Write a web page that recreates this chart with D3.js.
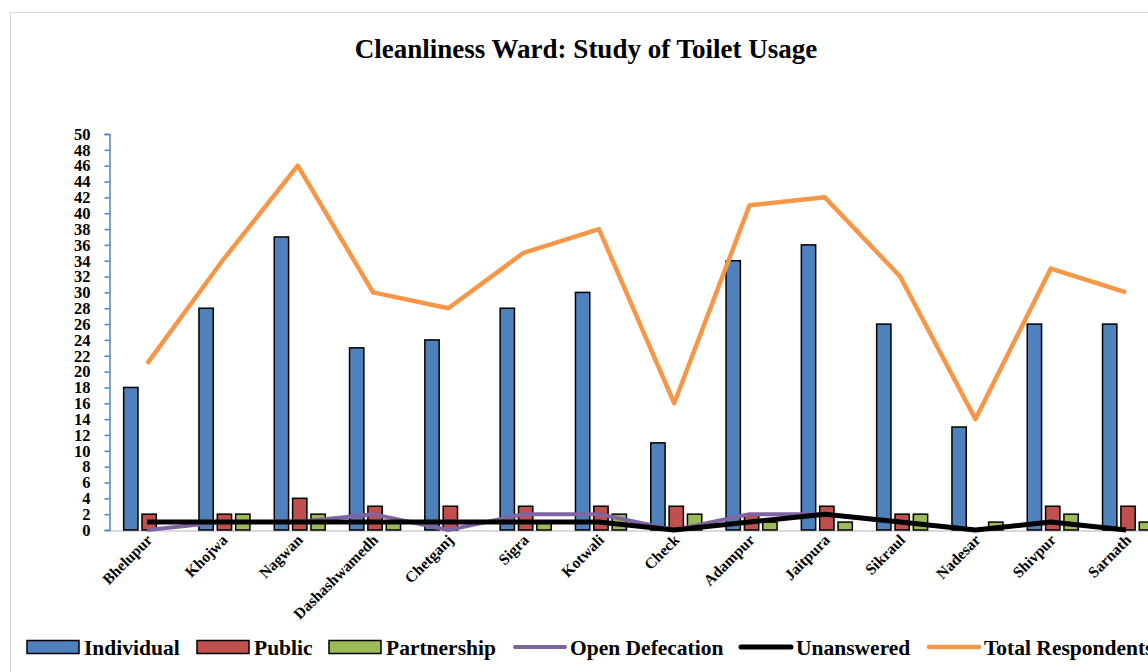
<!DOCTYPE html>
<html>
<head>
<meta charset="utf-8">
<script src="https://cdn.jsdelivr.net/npm/d3@7"></script>
<style>
	body { margin: 0; background: #fff; }
	svg { display: block; font-family: "Liberation Serif", "Times New Roman", serif; font-weight: bold; }
</style>
</head>
<body>
<svg id="chart" width="1148" height="672"></svg>
<script>
// data
var wards = ["Bhelupur", "Khojwa", "Nagwan", "Dashashwamedh", "Chetganj", "Sigra", "Kotwali",
	"Check", "Adampur", "Jaitpura", "Sikraul", "Nadesar", "Shivpur", "Sarnath"];
var individual = [18, 28, 37, 23, 24, 28, 30, 11, 34, 36, 26, 13, 26, 26];
var publicToilet = [2, 2, 4, 3, 3, 3, 3, 3, 2, 3, 2, 0, 3, 3];
var partnership = [0, 2, 2, 1, 0, 1, 2, 2, 1, 1, 2, 1, 2, 1];
var openDefecation = [0, 1, 1, 2, 0, 2, 2, 0, 2, 2, 1, 0, 1, 0];
var unanswered = [1, 1, 1, 1, 1, 1, 1, 0, 1, 2, 1, 0, 1, 0];
var totalRespondents = [21, 34, 46, 30, 28, 35, 38, 16, 41, 42, 32, 14, 33, 30];
var yTicks = d3.range(0, 51, 2);

var barSeries = [
	{ name: "Individual", values: individual, color: "#4F81BD" },
	{ name: "Public", values: publicToilet, color: "#C0504D" },
	{ name: "Partnership", values: partnership, color: "#9BBB59" }
];
var lineSeries = [
	{ name: "Open Defecation", values: openDefecation, color: "#8064A2", width: 4 },
	{ name: "Unanswered", values: unanswered, color: "#000000", width: 5 },
	{ name: "Total Respondents", values: totalRespondents, color: "#F79646", width: 4.5 }
];

var svg = d3.select("#chart");

// outer chart frame
svg.append("rect")
	.attr("x", 10.5).attr("y", 12.5)
	.attr("width", 1200).attr("height", 700)
	.attr("fill", "none")
	.attr("stroke", "#d9d9d9");

svg.append("text")
	.attr("x", 586).attr("y", 58)
	.attr("text-anchor", "middle")
	.attr("font-size", 27)
	.text("Cleanliness Ward: Study of Toilet Usage");

var x = d3.scaleBand()
	.domain(wards)
	.range([109.5, 109.5 + 75.3 * wards.length])
	.padding(0);

var xi = d3.scaleBand()
	.domain(barSeries.map(function(s) { return s.name; }))
	.range([-23.5, 27.5])
	.paddingInner(0.22)
	.paddingOuter(0);

var y = d3.scaleLinear()
	.domain([0, 50])
	.range([530, 134]);

// baseline
svg.append("line")
	.attr("x1", 109.5).attr("x2", 1148)
	.attr("y1", y(0) + 1).attr("y2", y(0) + 1)
	.attr("stroke", "#d9d9d9")
	.attr("stroke-width", 2);

// y axis
var yAxis = svg.append("g")
	.attr("transform", "translate(109.5,0)")
	.call(d3.axisLeft(y).tickValues(yTicks).tickSize(5).tickPadding(14));
yAxis.select(".domain").attr("stroke", "#4F81BD").attr("stroke-width", 1.5);
yAxis.selectAll(".tick line").attr("stroke", "#4F81BD").attr("stroke-width", 1.5);
yAxis.selectAll(".tick text")
	.attr("font-family", "Liberation Serif")
	.attr("font-weight", "bold")
	.attr("font-size", 16.5)
	.attr("fill", "#000");

// bars (zero values are not drawn)
barSeries.forEach(function(s) {
	var pts = s.values
		.map(function(v, i) { return { ward: wards[i], v: v }; })
		.filter(function(d) { return d.v > 0; });
	svg.append("g")
		.selectAll("rect")
		.data(pts)
		.enter().append("rect")
			.attr("x", function(d) { return x(d.ward) + x.bandwidth() / 2 + xi(s.name); })
			.attr("y", function(d) { return y(d.v); })
			.attr("width", xi.bandwidth())
			.attr("height", function(d) { return y(0) - y(d.v); })
			.attr("fill", s.color)
			.attr("stroke", "#000")
			.attr("stroke-width", 1.5);
});

// lines
var line = d3.line()
	.x(function(d, i) { return x(wards[i]) + x.bandwidth() / 2; })
	.y(function(d) { return y(d); });

lineSeries.forEach(function(s) {
	svg.append("path")
		.datum(s.values)
		.attr("d", line)
		.attr("fill", "none")
		.attr("stroke", s.color)
		.attr("stroke-width", s.width)
		.attr("stroke-linejoin", "round");
});

// category labels
svg.append("g")
	.selectAll("text")
	.data(wards)
	.enter().append("text")
		.attr("text-anchor", "end")
		.attr("font-size", 15.5)
		.attr("transform", function(d) { return "translate(" + (x(d) + x.bandwidth() / 2 + 6) + ",541)rotate(-45)"; })
		.text(function(d) { return d; });

// legend
var legendItems = [
	{ name: "Individual", type: "bar", color: "#4F81BD", x: 27 },
	{ name: "Public", type: "bar", color: "#C0504D", x: 197 },
	{ name: "Partnership", type: "bar", color: "#9BBB59", x: 329 },
	{ name: "Open Defecation", type: "line", color: "#8064A2", w: 4, x: 513 },
	{ name: "Unanswered", type: "line", color: "#000000", w: 5, x: 739 },
	{ name: "Total Respondents", type: "line", color: "#F79646", w: 4.5, x: 927 }
];
var legend = svg.append("g")
	.selectAll("g")
	.data(legendItems)
	.enter().append("g")
		.attr("transform", function(d) { return "translate(" + d.x + ",647)"; });

legend.filter(function(d) { return d.type === "bar"; })
	.append("rect")
	.attr("x", 0).attr("y", -6.5)
	.attr("width", 52).attr("height", 13)
	.attr("fill", function(d) { return d.color; })
	.attr("stroke", "#000")
	.attr("stroke-width", 1.5);

legend.filter(function(d) { return d.type === "line"; })
	.append("line")
	.attr("x1", 2).attr("x2", 52)
	.attr("stroke", function(d) { return d.color; })
	.attr("stroke-width", function(d) { return d.w; })
	.attr("stroke-linecap", "round");

legend.append("text")
	.attr("x", 57)
	.attr("dy", "0.35em")
	.attr("font-size", 21.5)
	.text(function(d) { return d.name; });
</script>
</body>
</html>
